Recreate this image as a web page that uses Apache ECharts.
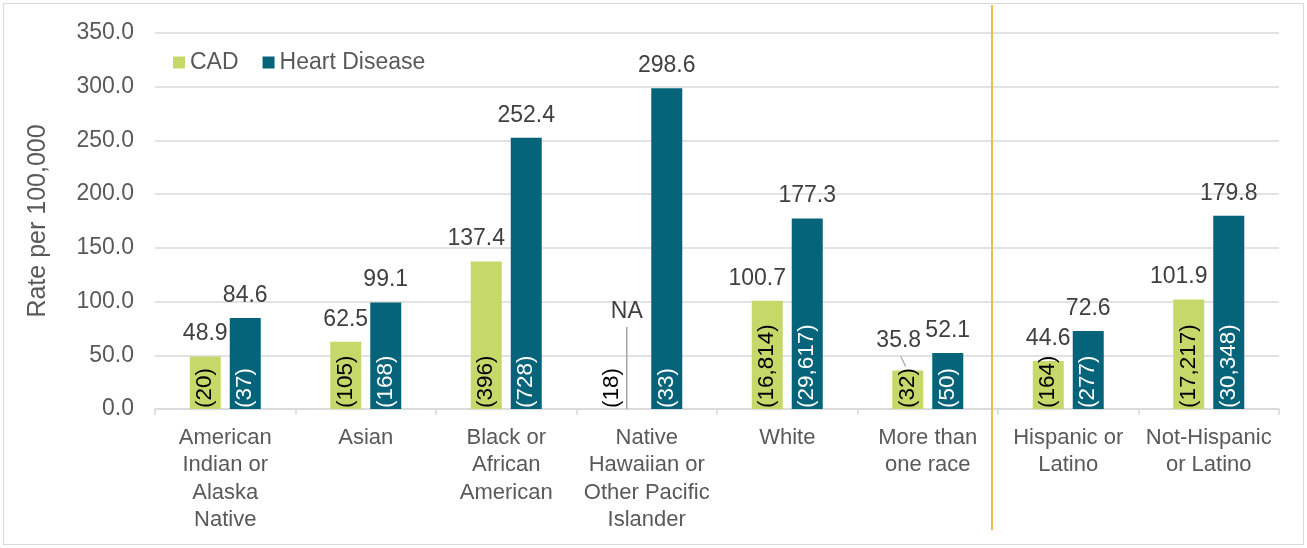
<!DOCTYPE html>
<html><head><meta charset="utf-8">
<script src="https://cdn.jsdelivr.net/npm/echarts@6/dist/echarts.min.js"></script>
<style>
html,body{margin:0;padding:0;background:#fff;}
#frame{position:absolute;left:3px;top:3px;width:1301px;height:542px;border:1px solid #d9d9d9;box-sizing:border-box;}
#c{position:absolute;left:0;top:0;width:1307px;height:548px;}
</style></head><body><div id="frame"></div><div id="c"></div>
<script>
const categories = ['American\nIndian or\nAlaska\nNative', 'Asian', 'Black or\nAfrican\nAmerican', 'Native\nHawaiian or\nOther Pacific\nIslander', 'White', 'More than\none race', 'Hispanic or\nLatino', 'Not-Hispanic\nor Latino'];
const cadRates = [48.9, 62.5, 137.4, null, 100.7, 35.8, 44.6, 101.9];
const heartRates = [84.6, 99.1, 252.4, 298.6, 177.3, 52.1, 72.6, 179.8];
const cadCounts = ['20', '105', '396', '18', '16,814', '32', '164', '17,217'];
const heartCounts = ['37', '168', '728', '33', '29,617', '50', '277', '30,348'];
const seriesNames = ['CAD', 'Heart Disease'];
const yMin = 0, yMax = 350, yStep = 50;
const separatorAfter = 5; // race groups | ethnicity groups

const FONT = "'Liberation Sans', Arial, sans-serif";
const CAD_COLOR = '#C6D86A';
const HD_COLOR = '#05637A';
const BAR_W = 31, GAP = 9;
const CAD_OFF = -(BAR_W + GAP) / 2;
const VAL_FS = 23, CNT_FS = 22.5, AX_FS = 23, CAT_FS = 22;

function cadLabelOffset(i) {
  const v = cadRates[i], h = heartRates[i];
  if (v == null) return [0, 0];
  if (Math.abs(h - v) < 20) return [-9, -7];
  if (v >= 100) return [-10, 0];
  return [0, 0];
}

const chart = echarts.init(document.getElementById('c'), null, {renderer: 'canvas'});
const option = {
  animation: false,
  textStyle: {fontFamily: FONT},
  grid: {left: 155, right: 28, top: 33, bottom: 139, containLabel: false},
  legend: {
    data: seriesNames, left: 168, top: 46, itemWidth: 12, itemHeight: 12, itemGap: 24,
    icon: 'rect', textStyle: {fontSize: AX_FS, color: '#595959', fontFamily: FONT}
  },
  xAxis: {
    type: 'category', data: categories,
    axisLine: {lineStyle: {color: '#d9d9d9', width: 1.5}},
    axisTick: {show: true, length: 6, lineStyle: {color: '#d9d9d9', width: 1.5}},
    axisLabel: {fontSize: CAT_FS, color: '#595959', lineHeight: 27.5, margin: 15, interval: 0, fontFamily: FONT}
  },
  yAxis: {
    type: 'value', min: yMin, max: yMax, interval: yStep,
    name: 'Rate per 100,000', nameLocation: 'middle', nameGap: 104,
    nameTextStyle: {fontSize: 25, color: '#595959', fontFamily: FONT},
    axisLine: {show: false}, axisTick: {show: false},
    splitLine: {lineStyle: {color: '#d9d9d9', width: 1.5}},
    axisLabel: {fontSize: AX_FS, color: '#595959', margin: 21, formatter: v => v.toFixed(1), fontFamily: FONT}
  },
  series: [
    {
      name: 'CAD', type: 'bar', stack: 'cad', barWidth: BAR_W, barGap: (GAP / BAR_W * 100) + '%',
      data: cadRates, itemStyle: {color: CAD_COLOR},
      label: {show: true, position: 'insideBottom', rotate: 90, align: 'left', verticalAlign: 'middle',
        distance: 1, fontSize: CNT_FS, color: '#000', fontFamily: FONT,
        formatter: p => '(' + cadCounts[p.dataIndex] + ')'}
    },
    {
      name: 'cadTop', type: 'bar', stack: 'cad', barWidth: BAR_W, silent: true,
      data: cadRates.map((v, i) => v == null ? null : {value: 0, label: {offset: cadLabelOffset(i)}}),
      itemStyle: {color: 'rgba(0,0,0,0)'},
      label: {show: true, position: 'top', distance: 11, fontSize: VAL_FS, color: '#404040', fontFamily: FONT,
        formatter: p => cadRates[p.dataIndex].toFixed(1)}
    },
    {
      name: 'Heart Disease', type: 'bar', stack: 'hd', barWidth: BAR_W, barGap: (GAP / BAR_W * 100) + '%',
      data: heartRates, itemStyle: {color: HD_COLOR},
      label: {show: true, position: 'insideBottom', rotate: 90, align: 'left', verticalAlign: 'middle',
        distance: 1, fontSize: CNT_FS, color: '#fff', fontFamily: FONT,
        formatter: p => '(' + heartCounts[p.dataIndex] + ')'}
    },
    {
      name: 'hdTop', type: 'bar', stack: 'hd', barWidth: BAR_W, silent: true,
      data: heartRates.map(v => 0),
      itemStyle: {color: 'rgba(0,0,0,0)'},
      label: {show: true, position: 'top', distance: 11, fontSize: VAL_FS, color: '#404040', fontFamily: FONT,
        formatter: p => heartRates[p.dataIndex].toFixed(1)}
    },
    {
      name: 'notes', type: 'custom', silent: true, clip: false, z: 5,
      data: cadRates.map((v, i) => [i, v == null ? 0 : v]).filter((d, i) => cadRates[i] == null || Math.abs(heartRates[i] - cadRates[i]) < 20),
      renderItem: function (params, api) {
        const i = api.value(0), v = api.value(1);
        const c = api.coord([i, v]);
        const x = c[0] + CAD_OFF, y = c[1];
        if (cadRates[i] == null) {
          return {type: 'group', children: [
            {type: 'line', shape: {x1: x, y1: y, x2: x, y2: y - 82}, style: {stroke: '#a6a6a6', lineWidth: 1.5}},
            {type: 'text', x: x, y: y - 97, style: {text: 'NA', fill: '#404040', font: VAL_FS + 'px ' + FONT, textAlign: 'center', textVerticalAlign: 'middle'}},
            {type: 'text', x: x - 15, y: y - 1, rotation: Math.PI / 2, style: {text: '(' + cadCounts[i] + ')', fill: '#000', font: CNT_FS + 'px ' + FONT, textAlign: 'left', textVerticalAlign: 'middle'}}
          ]};
        }
        return {type: 'line', shape: {x1: x - 7, y1: y - 14, x2: x - 2, y2: y - 4}, style: {stroke: '#a6a6a6', lineWidth: 1.2}};
      }
    }
  ]
};
chart.setOption(option);
const x5 = chart.convertToPixel({xAxisIndex: 0}, separatorAfter);
const x6 = chart.convertToPixel({xAxisIndex: 0}, separatorAfter + 1);
const sepX = (x5 + x6) / 2 - 6;
chart.setOption({graphic: [{type: 'line', shape: {x1: sepX, y1: 5, x2: sepX, y2: 530}, style: {stroke: '#EBBB55', lineWidth: 2}, z: 10}]});
</script></body></html>
